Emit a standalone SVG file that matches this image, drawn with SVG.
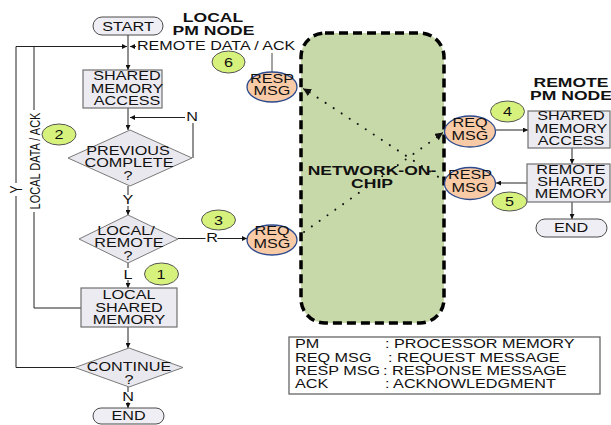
<svg xmlns="http://www.w3.org/2000/svg" width="611" height="425" viewBox="0 0 611 425">
<defs>
<style>
.t{font-family:"Liberation Sans",Arial,sans-serif;font-size:12px;fill:#111;text-anchor:middle}
.s{text-anchor:start}
.b{font-weight:bold;font-size:13px}
.box{fill:#ecebf2;stroke:#707070;stroke-width:1.2}
.dia{fill:#e9e8ee;stroke:#7a7a7a;stroke-width:1}
.pill{fill:#efeef4;stroke:#4a4a4a;stroke-width:1}
.num{fill:#d6f27c;stroke:#555;stroke-width:1}
.msg{fill:#f8caa6;stroke:#2c4a8c;stroke-width:1.3}
.ln{stroke:#222;fill:none;stroke-width:1}
.dot{stroke:#111;fill:none;stroke-width:2;stroke-linecap:round;stroke-dasharray:0.1 9.5}
.halo{stroke:#fff;stroke-width:3;paint-order:stroke}
</style>
<marker id="ah" viewBox="0 0 10 10" refX="10" refY="5" markerWidth="5" markerHeight="5" markerUnits="userSpaceOnUse" orient="auto"><path d="M0,0 L10,5 L0,10 z" fill="#111"/></marker>
<marker id="ah2" viewBox="0 0 10 10" refX="10" refY="5" markerWidth="8" markerHeight="8" markerUnits="userSpaceOnUse" orient="auto"><path d="M0,0 L10,5 L0,10 z" fill="#111"/></marker>
</defs>
<rect width="611" height="425" fill="#fff"/>

<g id="noc">
<rect x="301" y="33" width="143" height="290" rx="24" fill="#c8d9a9" stroke="#000" stroke-width="3.5" stroke-dasharray="9 5"/>
<text class="t b" transform="translate(372,175) scale(1.35,1)">NETWORK-ON-</text>
<text class="t b" transform="translate(372,188) scale(1.35,1)">CHIP</text>
</g>

<g id="connectors">
<path class="ln" d="M128,35 V70" marker-end="url(#ah)"/>
<path class="ln" d="M16,46.5 H127" marker-end="url(#ah)"/>
<path class="ln" d="M136,46.5 H130" marker-end="url(#ah)"/>
<path class="ln" d="M16,46.5 V183 M16,196 V367.5 H75"/>
<path class="ln" d="M34,46.5 V110 M34,212 V308 H81"/>
<path class="ln" d="M128,108 V130" marker-end="url(#ah)"/>
<path class="ln" d="M193,158 V123"/>
<path class="ln" d="M185,117.5 H130" marker-end="url(#ah)"/>
<path class="ln" d="M128,186 V195"/>
<path class="ln" d="M128,206 V215" marker-end="url(#ah)"/>
<path class="ln" d="M128,263 V268"/>
<path class="ln" d="M128,280 V288" marker-end="url(#ah)"/>
<path class="ln" d="M178,238.5 H247" marker-end="url(#ah)"/>
<path class="ln" d="M128,327 V348" marker-end="url(#ah)"/>
<path class="ln" d="M128,387 V392"/>
<path class="ln" d="M128,402 V408" marker-end="url(#ah)"/>
<path d="M272,53 V72" stroke="#666" stroke-width="1.2" fill="none"/>
<path class="dot" d="M446,182 L306,90"/>
<path d="M308,91.5 L303,88.5" stroke="#111" fill="none" marker-end="url(#ah2)"/>
<path class="dot" d="M304,232 L440,135"/>
<path d="M438,136 L443,132.5" stroke="#111" fill="none" marker-end="url(#ah2)"/>
<path class="ln" d="M496,130 H528" marker-end="url(#ah)"/>
<path class="ln" d="M572,148 V164" marker-end="url(#ah)"/>
<path class="ln" d="M527,183 H496" marker-end="url(#ah)"/>
<path class="ln" d="M572,202 V219" marker-end="url(#ah)"/>
<text class="t" transform="translate(137,50) scale(1.34,1)" style="text-anchor:start">REMOTE DATA / ACK</text>
<text class="t" transform="translate(22,189.5) rotate(-90) scale(1,1.35)">Y</text>
<text class="t" transform="translate(40,161) rotate(-90) scale(1,1.35)" style="font-size:11px">LOCAL DATA / ACK</text>
<text class="t" transform="translate(192,121) scale(1.35,1)">N</text>
<text class="t" transform="translate(128,204) scale(1.35,1)">Y</text>
<text class="t" transform="translate(128,279) scale(1.35,1)">L</text>
<text class="t halo" transform="translate(212,242) scale(1.35,1)">R</text>
<text class="t" transform="translate(128,401) scale(1.35,1)">N</text>
</g>

<g id="start">
<rect class="pill" x="93" y="17" width="70" height="18" rx="9"/>
<text class="t" transform="translate(128,31) scale(1.35,1)">START</text>
</g>
<g id="local-title">
<text class="t b" transform="translate(213,22) scale(1.35,1)">LOCAL</text>
<text class="t b" transform="translate(213.5,35) scale(1.35,1)">PM NODE</text>
</g>
<g id="shared-access">
<rect class="box" x="83" y="70" width="79" height="38"/>
<text class="t" transform="translate(127,80) scale(1.35,1)">SHARED</text>
<text class="t" transform="translate(127,92.5) scale(1.35,1)">MEMORY</text>
<text class="t" transform="translate(127,105) scale(1.35,1)">ACCESS</text>
</g>
<g id="previous">
<polygon class="dia" points="130,130 192,158 130,186 68,158"/>
<text class="t" transform="translate(128,155) scale(1.35,1)">PREVIOUS</text>
<text class="t" transform="translate(129,167) scale(1.35,1)">COMPLETE</text>
<text class="t" transform="translate(128,179.5) scale(1.35,1)">?</text>
</g>
<g id="local-remote">
<polygon class="dia" points="128,215 178,239 128,263 79,239"/>
<text class="t" transform="translate(126,235) scale(1.35,1)">LOCAL/</text>
<text class="t" transform="translate(129,247) scale(1.35,1)">REMOTE</text>
<text class="t" transform="translate(128,260) scale(1.35,1)">?</text>
</g>
<g id="local-shared">
<rect class="box" x="81" y="288" width="96" height="39"/>
<text class="t" transform="translate(129,299) scale(1.35,1)">LOCAL</text>
<text class="t" transform="translate(129,311.5) scale(1.35,1)">SHARED</text>
<text class="t" transform="translate(129,324) scale(1.35,1)">MEMORY</text>
</g>
<g id="continue">
<polygon class="dia" points="129,348 183,367.5 129,387 75,367.5"/>
<text class="t" transform="translate(129,370.5) scale(1.35,1)">CONTINUE</text>
<text class="t" transform="translate(129,384) scale(1.35,1)">?</text>
</g>
<g id="end-local">
<rect class="pill" x="93" y="408" width="71" height="16" rx="8"/>
<text class="t" transform="translate(128.5,420) scale(1.35,1)">END</text>
</g>

<g id="n1"><ellipse class="num" cx="161.5" cy="274" rx="17" ry="11"/><text class="t" transform="translate(161,279) scale(1.35,1)">1</text></g>
<g id="n2"><ellipse class="num" cx="59" cy="134.5" rx="17" ry="10.5"/><text class="t" transform="translate(59,139) scale(1.35,1)">2</text></g>
<g id="n3"><ellipse class="num" cx="218.5" cy="220" rx="17" ry="10"/><text class="t" transform="translate(218.5,225) scale(1.35,1)">3</text></g>
<g id="n4"><ellipse class="num" cx="507.5" cy="111.5" rx="17" ry="10.5"/><text class="t" transform="translate(507.5,116) scale(1.35,1)">4</text></g>
<g id="n5"><ellipse class="num" cx="509.5" cy="201.5" rx="17.5" ry="9.5"/><text class="t" transform="translate(509.5,206) scale(1.35,1)">5</text></g>
<g id="n6"><ellipse class="num" cx="228.5" cy="62" rx="16.5" ry="11"/><text class="t" transform="translate(228.5,66.5) scale(1.35,1)">6</text></g>

<g id="resp-local">
<ellipse class="msg" cx="272" cy="87" rx="25" ry="15"/>
<text class="t" transform="translate(272,83) scale(1.35,1)">RESP</text>
<text class="t" transform="translate(272,95) scale(1.35,1)">MSG</text>
</g>
<g id="req-local">
<ellipse class="msg" cx="272" cy="240" rx="25" ry="15"/>
<text class="t" transform="translate(272,235) scale(1.35,1)">REQ</text>
<text class="t" transform="translate(272,248) scale(1.35,1)">MSG</text>
</g>

<g id="remote-title">
<text class="t b" transform="translate(571,87) scale(1.35,1)">REMOTE</text>
<text class="t b" transform="translate(571,100) scale(1.35,1)">PM NODE</text>
</g>
<g id="req-remote">
<ellipse class="msg" cx="470" cy="131.5" rx="25.5" ry="15.5"/>
<text class="t" transform="translate(470,127) scale(1.35,1)">REQ</text>
<text class="t" transform="translate(470,139.5) scale(1.35,1)">MSG</text>
</g>
<g id="remote-access">
<rect class="box" x="528" y="111" width="82" height="37"/>
<text class="t" transform="translate(571,120) scale(1.35,1)">SHARED</text>
<text class="t" transform="translate(571,133) scale(1.35,1)">MEMORY</text>
<text class="t" transform="translate(571,145) scale(1.35,1)">ACCESS</text>
</g>
<g id="remote-shared">
<rect class="box" x="527" y="164" width="83" height="38"/>
<text class="t" transform="translate(571,174) scale(1.35,1)">REMOTE</text>
<text class="t" transform="translate(571,186) scale(1.35,1)">SHARED</text>
<text class="t" transform="translate(571,198) scale(1.35,1)">MEMORY</text>
</g>
<g id="resp-remote">
<ellipse class="msg" cx="470" cy="183.5" rx="25.5" ry="16"/>
<text class="t" transform="translate(470,179) scale(1.35,1)">RESP</text>
<text class="t" transform="translate(470,192) scale(1.35,1)">MSG</text>
</g>
<g id="end-remote">
<rect class="pill" x="536" y="219" width="71" height="18" rx="9"/>
<text class="t" transform="translate(571,232) scale(1.35,1)">END</text>
</g>

<g id="legend">
<rect x="289" y="337" width="311" height="57" fill="#fff" stroke="#666" stroke-width="1.3"/>
<text class="t s" transform="translate(295,348) scale(1.35,1)">PM</text>
<text class="t s" transform="translate(385,348) scale(1.35,1)">: PROCESSOR MEMORY</text>
<text class="t s" transform="translate(295,361.5) scale(1.35,1)">REQ MSG</text>
<text class="t s" transform="translate(388,361.5) scale(1.35,1)">: REQUEST MESSAGE</text>
<text class="t s" transform="translate(295,375) scale(1.35,1)">RESP MSG</text>
<text class="t s" transform="translate(383,375) scale(1.35,1)">: RESPONSE MESSAGE</text>
<text class="t s" transform="translate(295,388) scale(1.35,1)">ACK</text>
<text class="t s" transform="translate(385,388) scale(1.35,1)">: ACKNOWLEDGMENT</text>
</g>
</svg>
